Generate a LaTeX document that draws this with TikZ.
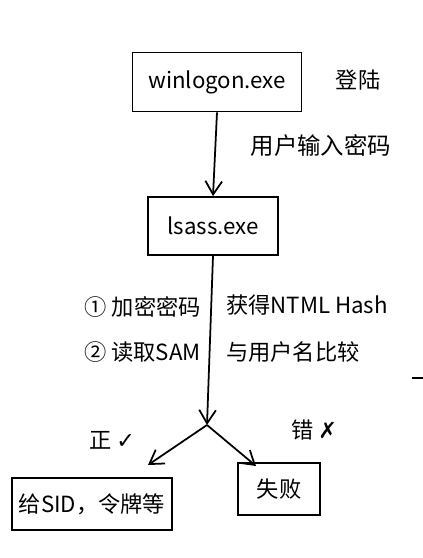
\documentclass[tikz,border=0pt]{standalone}
\usepackage{fontspec}
\setmainfont{Noto Sans CJK SC}
\newfontfamily\symfont{DejaVu Sans}
\usetikzlibrary{arrows.meta}
\tikzset{
    box/.style={draw,line width=1.5pt,anchor=center,inner sep=0pt,font=\fontsize{19}{22}\selectfont},
    note/.style={anchor=center,font=\fontsize{19}{22}\selectfont},
    flow/.style={line width=1.5pt,-{Straight Barb[length=4mm,width=5mm]}}
}
\begin{document}
\begin{tikzpicture}[x=0.03cm,y=-0.03cm]
    \useasboundingbox (0,0) rectangle (423,558);
    %% processes
    \node[box,minimum width=169*0.03cm,minimum height=59*0.03cm] (W) at (217,82) {winlogon.exe};
    \node[note] (login) at (358,80) {登陆};
    \node[box,minimum width=130*0.03cm,minimum height=58*0.03cm] (L) at (213,226) {lsass.exe};
    \draw[flow] (W.south) -- (L.north) node[pos=0.4,anchor=west,xshift=26,font=\fontsize{20}{22}\selectfont] (pwd) {用户输入密码};
    %% steps
    \coordinate (split) at (207,425);
    \draw[flow] (L.south) -- (split);
    \node[note,anchor=east] (s1) at (205,307) {① 加密密码};
    \node[note,anchor=west] (r1) at (222,305) {获得NTML Hash};
    \node[note,anchor=east] (s2) at (205,352) {② 读取SAM};
    \node[note,anchor=west] (r2) at (222,352) {与用户名比较};
    %% results
    \node[box,minimum width=160*0.03cm,minimum height=52*0.03cm] (ok) at (92,504) {给SID，令牌等};
    \node[box,minimum width=82*0.03cm,minimum height=52*0.03cm] (fail) at (279,489) {失败};
    \draw[flow] (split) -- (148,465);
    \draw[flow] (split) -- (256,466);
    \node[note] (yes) at (112,440) {正 {\symfont ✓}};
    \node[note] (no) at (314,430) {错 {\symfont ✗}};
    \draw[line width=1.2pt] (412,378) -- (423,378);
\end{tikzpicture}
\end{document}
